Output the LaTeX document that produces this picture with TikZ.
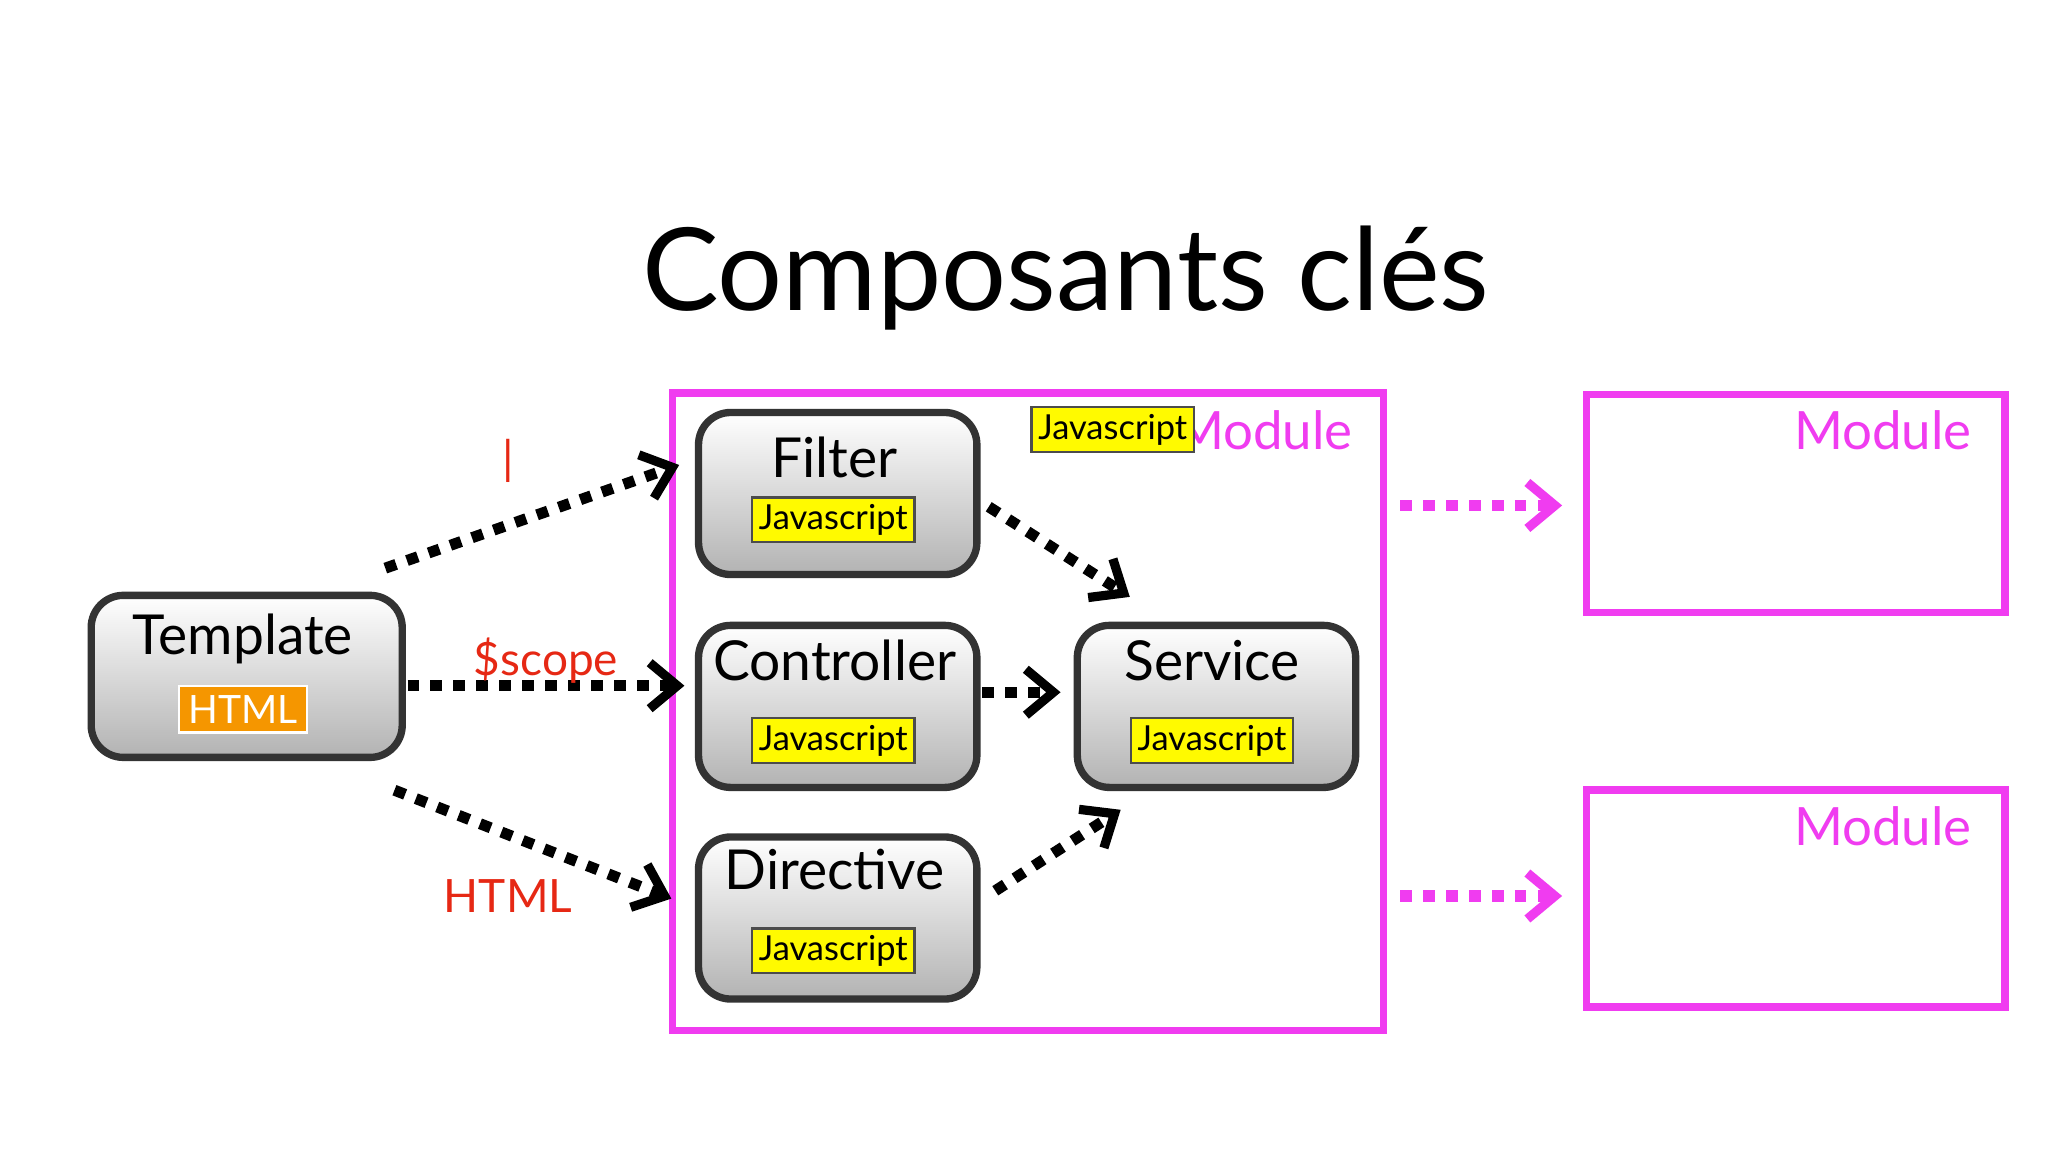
\documentclass[tikz,border=0pt]{standalone}
\usepackage{fontspec}
\setmainfont{Lato}
\usetikzlibrary{arrows.meta}
\definecolor{mag}{RGB}{240,60,240}
\definecolor{lblred}{RGB}{230,40,20}
\definecolor{jsy}{RGB}{255,250,0}
\definecolor{htmlor}{RGB}{245,150,0}
\begin{document}
\begin{tikzpicture}[x=0.01cm,y=-0.01cm,
 comp/.style={draw=black!80,line width=1.6pt,rounded corners=7pt,top color=white,bottom color=black!30,minimum width=2.13cm,minimum height=1.24cm,anchor=north west},
 tag/.style={draw=black!70,line width=0.5pt,fill=jsy,inner sep=1.5pt,font=\fontsize{7.5}{8}\selectfont},
 ttl/.style={font=\fontsize{12}{13}\selectfont},
 modbox/.style={draw=mag,line width=1.6pt,anchor=north west},
 modlbl/.style={text=mag,font=\fontsize{11.5}{12}\selectfont},
 dep/.style={line width=2.4pt,dash pattern=on 2.5pt off 2.5pt,-{Straight Barb[length=6pt,width=10pt,line width=2pt]}},
 mdep/.style={dep,draw=mag,-{Straight Barb[length=6pt,width=10pt,line width=2pt]}},
 lab/.style={text=lblred,font=\fontsize{10}{11}\selectfont}]
\useasboundingbox (0,0) rectangle (1568,882);
\fill[white] (0,0) rectangle (1568,882);
\node[font=\fontsize{25}{28}\selectfont] (title) at (816,213) {Composants clés};
% modules
\node[modbox,minimum width=5.44cm,minimum height=4.88cm] (mod) at (512,298) {};
\node[modbox,minimum width=3.2cm,minimum height=1.67cm] (mod2) at (1212,299) {};
\node[modbox,minimum width=3.2cm,minimum height=1.66cm] (mod3) at (1212,602) {};
\node[modlbl,anchor=north east] (ml1) at (1048,302) {Module};
\node[modlbl,anchor=north east] (ml2) at (1522,302) {Module};
\node[modlbl,anchor=north east] (ml3) at (1522,605) {Module};
\node[tag] (mjs) at (852,329) {Javascript};
% components
\node[comp,minimum width=2.38cm] (tpl) at (67,453) {};
\node[ttl] (tplt) at (186,489) {Template};
\node[fill=htmlor,draw=white,line width=0.5pt,inner sep=2pt,text=white,font=\fontsize{8.5}{9}\selectfont] (tplh) at (186,543) {HTML};
\node[comp] (fil) at (532,313) {};
\node[ttl] (filt) at (639,350) {Filter};
\node[tag] (filj) at (638,398) {Javascript};
\node[comp] (ctl) at (532,476) {};
\node[ttl] (ctlt) at (639,506) {Controller};
\node[tag] (ctlj) at (638,567) {Javascript};
\node[comp] (dir) at (532,638) {};
\node[ttl] (dirt) at (639,666) {Direc{}tive};
\node[tag] (dirj) at (638,728) {Javascript};
\node[comp] (srv) at (822,476) {};
\node[ttl] (srvt) at (928,506) {Service};
\node[tag] (srvj) at (928,567) {Javascript};
% connector ends
\coordinate (a1) at (295,435); \coordinate (b1) at (520,356);
\coordinate (a2) at (312,525); \coordinate (b2) at (524,525);
\coordinate (a3) at (302,605); \coordinate (b3) at (514,688);
\coordinate (a4) at (757,388); \coordinate (b4) at (865,457);
\coordinate (a5) at (752,530); \coordinate (b5) at (812,530);
\coordinate (a6) at (762,682); \coordinate (b6) at (858,620);
\coordinate (a7) at (1072,387); \coordinate (b7) at (1196,387);
\coordinate (a8) at (1072,686); \coordinate (b8) at (1196,686);
\draw[dep] (a1) -- (b1);
\draw[dep] (a2) -- (b2);
\draw[dep] (a3) -- (b3);
\draw[dep] (a4) -- (b4);
\draw[dep] (a5) -- (b5);
\draw[dep] (a6) -- (b6);
\draw[mdep] (a7) -- (b7);
\draw[mdep] (a8) -- (b8);
\node[lab] (l1) at (389,353) {|};
\node[lab] (l2) at (418,506) {\$scope};
\node[lab] (l3) at (389,686) {HTML};
\end{tikzpicture}
\end{document}
